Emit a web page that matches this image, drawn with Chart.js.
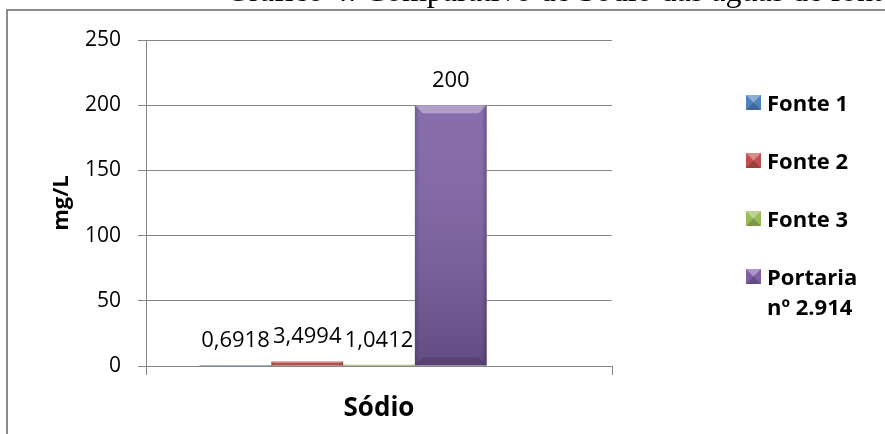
<!DOCTYPE html>
<html>
<head>
<meta charset="utf-8">
<script src="https://cdn.jsdelivr.net/npm/chart.js@4.4.0/dist/chart.umd.min.js"></script>
<style>
    html, body { margin: 0; padding: 0; background: #fff; overflow: hidden; }
    #wrap { position: relative; width: 885px; height: 434px; overflow: hidden; }
    #sodio { position: absolute; left: 0; top: 0; }
</style>
</head>
<body>
<div id="wrap">
    <canvas id="sodio" width="885" height="434"></canvas>
</div>
<script>
const pageTitle = 'Gráfico 4: Comparativo de Sódio das águas de fontes';
const categories = ['Sódio'];
const fonte1 = [0.6918];
const fonte2 = [3.4994];
const fonte3 = [1.0412];
const portaria = [200];
const vazia = [null]; // empty slot kept by the spreadsheet series layout
const seriesLabels = ['Fonte 1', 'Fonte 2', 'Fonte 3', ['Portaria', 'nº 2.914'], ''];
const seriesColors = ['#4f81bd', '#c0504d', '#9bbb59', '#7d60a5', 'rgba(0,0,0,0)'];

const axisGray = '#868686';
const font = 'Open Sans';

// document caption (cut off at the top) and the chart's outer frame
const framePlugin = {
    id: 'frame',
    beforeDraw(chart) {
        const ctx = chart.ctx;
        ctx.save();
        ctx.fillStyle = '#fff';
        ctx.fillRect(0, 0, chart.width, chart.height);
        ctx.font = '32px "Liberation Serif"';
        ctx.fillStyle = '#000';
        ctx.textBaseline = 'bottom';
        ctx.textAlign = 'left';
        ctx.fillText(pageTitle, 226, 9);
        ctx.strokeStyle = '#8c8c8c';
        ctx.lineWidth = 2;
        ctx.beginPath();
        ctx.moveTo(7, chart.height + 5);
        ctx.lineTo(7, 10);
        ctx.lineTo(chart.width + 5, 10);
        ctx.stroke();
        ctx.restore();
    }
};

// bevelled "3D" look of the bars
const bevelPlugin = {
    id: 'bevel',
    afterDatasetsDraw(chart) {
        const ctx = chart.ctx;
        chart.data.datasets.forEach((ds, i) => {
            chart.getDatasetMeta(i).data.forEach((bar, j) => {
                if (ds.data[j] == null) return;
                const {x, y, base, width} = bar.getProps(['x', 'y', 'base', 'width'], true);
                const l = x - width / 2, r = x + width / 2, h = base - y;
                if (h <= 0) return;
                ctx.save();
                let g = ctx.createLinearGradient(0, y, 0, base);
                g.addColorStop(0, 'rgba(255,255,255,0.08)');
                g.addColorStop(1, 'rgba(0,0,0,0.22)');
                ctx.fillStyle = g;
                ctx.fillRect(l, y, width, h);

                g = ctx.createLinearGradient(l, 0, r, 0);
                g.addColorStop(0, 'rgba(0,0,0,0.15)');
                g.addColorStop(0.07, 'rgba(0,0,0,0)');
                g.addColorStop(0.93, 'rgba(0,0,0,0)');
                g.addColorStop(1, 'rgba(0,0,0,0.22)');
                ctx.fillStyle = g;
                ctx.fillRect(l, y, width, h);

                const b = Math.min(8, h / 3);
                ctx.beginPath();
                ctx.moveTo(l, y);
                ctx.lineTo(r, y);
                ctx.lineTo(r - b, y + b);
                ctx.lineTo(l + b, y + b);
                ctx.closePath();
                ctx.fillStyle = 'rgba(255,255,255,0.35)';
                ctx.fill();

                if (h > 16) {
                    ctx.beginPath();
                    ctx.moveTo(l, base);
                    ctx.lineTo(r, base);
                    ctx.lineTo(r - b, base - b);
                    ctx.lineTo(l + b, base - b);
                    ctx.closePath();
                    ctx.fillStyle = 'rgba(0,0,0,0.12)';
                    ctx.fill();
                }
                ctx.restore();
            });
        });
    }
};

// value written above every bar
const valueLabels = {
    id: 'valueLabels',
    afterDatasetsDraw(chart) {
        const ctx = chart.ctx;
        ctx.save();
        ctx.font = '22px "' + font + '"';
        ctx.fillStyle = '#000';
        ctx.textAlign = 'center';
        ctx.textBaseline = 'alphabetic';
        chart.data.datasets.forEach((ds, i) => {
            chart.getDatasetMeta(i).data.forEach((bar, j) => {
                const v = ds.data[j];
                if (v == null) return;
                ctx.fillText(String(v).replace('.', ','), bar.x, bar.y - 18);
            });
        });
        ctx.restore();
    }
};

// legend on the right, with multi-line names
const sideLegend = {
    id: 'sideLegend',
    afterDraw(chart) {
        const ctx = chart.ctx;
        const area = chart.chartArea;
        const x0 = area.right + 134;
        let yb = area.top + 71;
        ctx.save();
        ctx.font = 'bold 22px "' + font + '"';
        ctx.textBaseline = 'alphabetic';
        ctx.textAlign = 'left';
        chart.data.datasets.forEach((ds) => {
            if (!ds.label || !ds.label.length) return;
            const s = 15, top = yb - 16;
            ctx.fillStyle = ds.backgroundColor;
            ctx.fillRect(x0, top, s, s);
            ctx.beginPath();
            ctx.moveTo(x0, top); ctx.lineTo(x0 + s, top); ctx.lineTo(x0 + s / 2, top + s / 2); ctx.closePath();
            ctx.fillStyle = 'rgba(255,255,255,0.35)';
            ctx.fill();
            ctx.beginPath();
            ctx.moveTo(x0, top + s); ctx.lineTo(x0 + s, top + s); ctx.lineTo(x0 + s / 2, top + s / 2); ctx.closePath();
            ctx.fillStyle = 'rgba(0,0,0,0.2)';
            ctx.fill();

            const lines = Array.isArray(ds.label) ? ds.label : [ds.label];
            ctx.fillStyle = '#000';
            lines.forEach((t, k) => {
                ctx.fillText(t, x0 + 21, yb + k * 30);
            });
            yb += 58;
        });
        ctx.restore();
    }
};

const seriesData = [fonte1, fonte2, fonte3, portaria, vazia];

new Chart(document.getElementById('sodio'), {
    type: 'bar',
    data: {
        labels: categories,
        datasets: seriesData.map((d, i) => ({
            label: seriesLabels[i],
            data: d,
            backgroundColor: seriesColors[i],
            borderWidth: 0
        }))
    },
    options: {
        responsive: false,
        animation: false,
        layout: {padding: {left: 49, right: 273, top: 40, bottom: 0}},
        datasets: {bar: {categoryPercentage: 0.77, barPercentage: 1}},
        plugins: {legend: {display: false}, tooltip: {enabled: false}},
        scales: {
            x: {
                grid: {display: true, drawOnChartArea: false, tickLength: 9, color: axisGray},
                border: {color: axisGray},
                ticks: {color: '#000', padding: 18, font: {family: font, size: 26, weight: 'bold'}},
                afterFit: (s) => { s.height = 68; }
            },
            y: {
                min: 0,
                max: 250,
                ticks: {stepSize: 50, color: '#000', padding: 17, font: {family: font, size: 21}},
                grid: {color: axisGray, tickLength: 8},
                border: {color: axisGray},
                title: {display: true, text: 'mg/L', color: '#000', font: {family: font, size: 22, weight: 'bold'}, padding: 0},
                afterFit: (s) => { s.width = 97; }
            }
        }
    },
    plugins: [framePlugin, bevelPlugin, valueLabels, sideLegend]
});
</script>
</body>
</html>
